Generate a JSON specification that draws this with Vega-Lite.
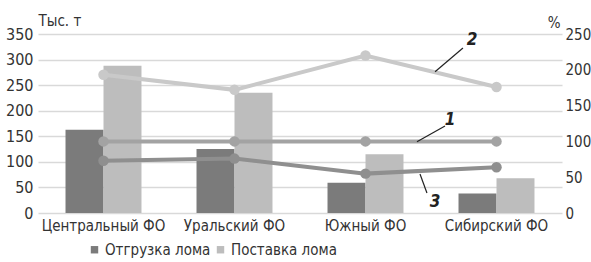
{
  "$schema": "https://vega.github.io/schema/vega-lite/v6.json",
  "width": 524,
  "height": 179,
  "autosize": {"type": "none"},
  "padding": {"left": 38, "top": 34, "right": 29, "bottom": 49},
  "background": "white",
  "config": {
    "view": {"stroke": null},
    "font": "DejaVu Sans Condensed",
    "axis": {"labelColor": "#333333", "titleColor": "#333333", "labelFont": "DejaVu Sans Condensed", "titleFont": "DejaVu Sans Condensed"},
    "legend": {"labelFont": "DejaVu Sans Condensed"}
  },
  "datasets": {
    "bars": [
      {"region": "Центральный ФО", "type": "Отгрузка лома", "value": 163},
      {"region": "Центральный ФО", "type": "Поставка лома", "value": 288},
      {"region": "Уральский ФО", "type": "Отгрузка лома", "value": 125},
      {"region": "Уральский ФО", "type": "Поставка лома", "value": 235},
      {"region": "Южный ФО", "type": "Отгрузка лома", "value": 59},
      {"region": "Южный ФО", "type": "Поставка лома", "value": 115},
      {"region": "Сибирский ФО", "type": "Отгрузка лома", "value": 38},
      {"region": "Сибирский ФО", "type": "Поставка лома", "value": 68}
    ],
    "lines": [
      {"region": "Центральный ФО", "series": "1", "pct": 100},
      {"region": "Уральский ФО", "series": "1", "pct": 100},
      {"region": "Южный ФО", "series": "1", "pct": 100},
      {"region": "Сибирский ФО", "series": "1", "pct": 100},
      {"region": "Центральный ФО", "series": "2", "pct": 193},
      {"region": "Уральский ФО", "series": "2", "pct": 172},
      {"region": "Южный ФО", "series": "2", "pct": 220},
      {"region": "Сибирский ФО", "series": "2", "pct": 176},
      {"region": "Центральный ФО", "series": "3", "pct": 73},
      {"region": "Уральский ФО", "series": "3", "pct": 76},
      {"region": "Южный ФО", "series": "3", "pct": 55},
      {"region": "Сибирский ФО", "series": "3", "pct": 64}
    ],
    "ann": [
      {"label": "1", "tx": 3.145, "ty": 130, "x1": 2.893, "y1": 99.6, "x2": 3.107, "y2": 121.5},
      {"label": "2", "tx": 3.313, "ty": 241.6, "x1": 3.031, "y1": 197.3, "x2": 3.244, "y2": 230.4},
      {"label": "3", "tx": 3.031, "ty": 15.8, "x1": 2.916, "y1": 54.5, "x2": 2.969, "y2": 27.9}
    ]
  },
  "layer": [
    {
      "data": {"name": "bars"},
      "mark": {"type": "bar"},
      "encoding": {
        "x": {
          "field": "region", "type": "nominal", "sort": null,
          "scale": {"paddingInner": 0.42, "paddingOuter": 0.21},
          "axis": {"title": null, "labelAngle": 0, "labelFontSize": 15, "domain": false, "ticks": false, "labelPadding": 5}
        },
        "xOffset": {"field": "type", "type": "nominal", "sort": null},
        "y": {
          "field": "value", "type": "quantitative",
          "scale": {"domain": [0, 350], "nice": false},
          "axis": {
            "title": "Тыс. т", "titleAngle": 0, "titleAlign": "left", "titleBaseline": "alphabetic",
            "titleX": 0, "titleY": -9, "titleFontSize": 15, "titleFontWeight": "normal",
            "values": [0, 50, 100, 150, 200, 250, 300, 350],
            "labelFontSize": 16, "domain": false, "ticks": false, "labelPadding": 5,
            "grid": true, "gridColor": "#d9d9d9", "gridWidth": 1.5
          }
        },
        "color": {
          "field": "type", "type": "nominal",
          "scale": {"domain": ["Отгрузка лома", "Поставка лома"], "range": ["#7b7b7b", "#bdbdbd"]},
          "legend": {
            "title": null, "orient": "none", "direction": "horizontal",
            "legendX": 49, "legendY": 208,
            "symbolType": "square", "symbolSize": 55, "symbolStrokeWidth": 0,
            "labelFontSize": 15, "labelColor": "#333333", "labelOffset": 3, "columnPadding": 2,
            "labelExpr": "datum.label == 'Поставка лома' ? '\u2003\u2003\u2003 ' + datum.label : datum.label"
          }
        }
      }
    },
    {
      "data": {"name": "lines"},
      "layer": [
        {"mark": {"type": "line", "strokeWidth": 4}, "encoding": {}},
        {"mark": {"type": "point", "filled": true, "size": 110, "opacity": 1}, "encoding": {}}
      ],
      "encoding": {
        "x": {
          "field": "region", "type": "nominal", "sort": ["Центральный ФО", "Уральский ФО", "Южный ФО", "Сибирский ФО"],
          "scale": {"paddingInner": 0.42, "paddingOuter": 0.21},
          "axis": null
        },
        "y": {
          "field": "pct", "type": "quantitative",
          "scale": {"domain": [0, 250], "nice": false},
          "axis": {
            "orient": "right", "title": "%", "titleAngle": 0, "titleAlign": "right", "titleBaseline": "alphabetic",
            "titleX": -2, "titleY": -7, "titleFontSize": 15, "titleFontWeight": "normal",
            "values": [0, 50, 100, 150, 200, 250],
            "labelFontSize": 15, "domain": false, "ticks": false, "labelPadding": 3, "grid": false
          }
        },
        "color": {
          "field": "series", "type": "nominal",
          "scale": {"domain": ["1", "2", "3"], "range": ["#a3a3a3", "#c9c9c9", "#8f8f8f"]},
          "legend": null
        }
      }
    },
    {
      "data": {"name": "ann"},
      "layer": [
        {
          "mark": {"type": "rule", "color": "#222222", "strokeWidth": 1.2},
          "encoding": {
            "x": {"field": "x1", "type": "quantitative"},
            "x2": {"field": "x2"},
            "y": {"field": "y1", "type": "quantitative"},
            "y2": {"field": "y2"}
          }
        },
        {
          "mark": {"type": "text", "fontSize": 17, "fontWeight": "bold", "fontStyle": "italic", "baseline": "middle", "align": "center", "color": "#222222"},
          "encoding": {
            "x": {"field": "tx", "type": "quantitative"},
            "y": {"field": "ty", "type": "quantitative"},
            "text": {"field": "label"}
          }
        }
      ],
      "encoding": {
        "x": {"field": "tx", "type": "quantitative", "scale": {"domain": [0, 4], "nice": false, "zero": false}, "axis": null},
        "y": {"field": "ty", "type": "quantitative", "scale": {"domain": [0, 250], "nice": false}, "axis": null}
      }
    }
  ],
  "resolve": {"scale": {"x": "independent", "y": "independent", "color": "independent"}}
}
